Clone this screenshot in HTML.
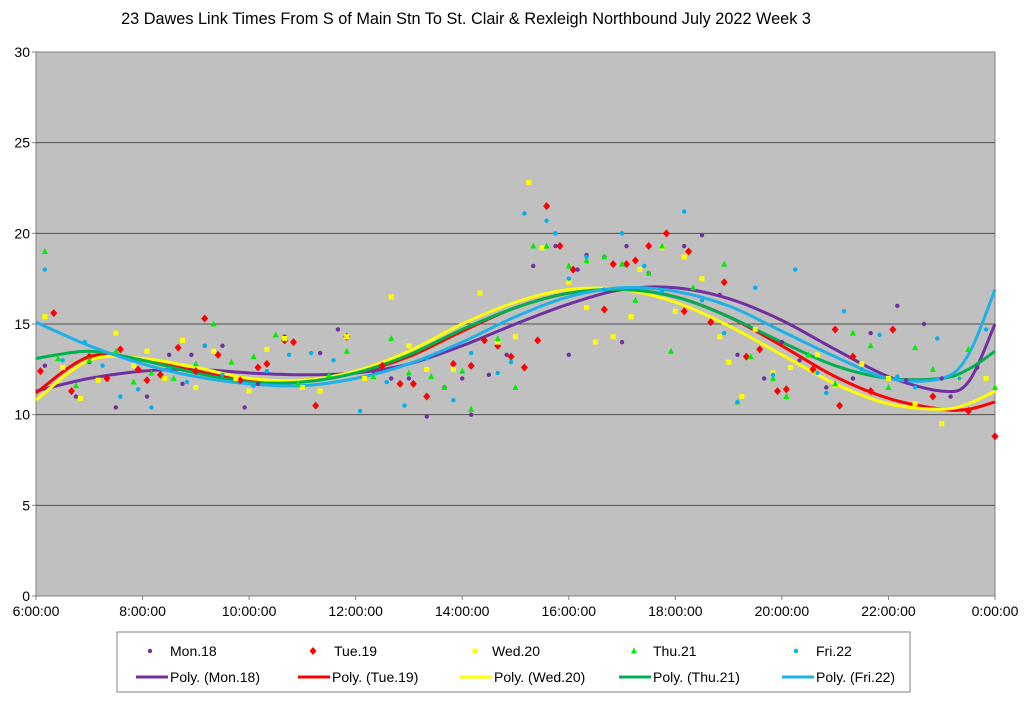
<!DOCTYPE html>
<html><head><meta charset="utf-8"><style>
body{margin:0;background:#fff;font-family:"Liberation Sans",Arial,sans-serif}
svg text{font-family:"Liberation Sans",Arial,sans-serif}
</style></head><body>
<svg id="c" width="1024" height="700">
<text x="466" y="24" text-anchor="middle" font-size="16.3">23 Dawes Link Times From S of Main Stn To St. Clair &amp; Rexleigh Northbound July 2022  Week 3</text>
<rect x="36" y="52" width="959" height="544" fill="#c0c0c0" stroke="#808080"/>
<g id="grid"></g><g id="lines"></g><g id="pts"></g><g id="axes"></g>
<g id="legend">
<rect x="117" y="632" width="793" height="60" fill="#fff" stroke="#808080"/>
</g>
</svg>
<script>
const yTicks=[0,5,10,15,20,25,30];
const xTicks=["6:00:00","8:00:00","10:00:00","12:00:00","14:00:00","16:00:00","18:00:00","20:00:00","22:00:00","0:00:00"];
const seriesNames=["Mon.18","Tue.19","Wed.20","Thu.21","Fri.22"];
const monT=["6:10","6:45","7:00","7:30","7:50","8:05","8:30","8:45","8:55","9:10","9:30","9:55","10:10","10:40","11:20","11:40","12:20","12:40","13:00","13:20","13:40","14:00","14:10","14:30","14:50","15:20","15:45","16:00","16:10","16:20","16:40","17:00","17:05","17:30","18:10","18:30","18:50","19:10","19:40","20:00","20:20","20:50","21:20","21:40","22:10","22:20","22:40","23:00","23:10","23:40"];
const monV=[12.7,11.0,12.9,10.4,12.7,11.0,13.3,11.7,13.3,13.8,13.8,10.4,11.7,14.3,13.4,14.7,12.4,12.0,12.0,9.9,11.5,12.0,10.0,12.2,13.3,18.2,19.3,13.3,18.0,18.8,18.7,14.0,19.3,17.8,19.3,19.9,16.6,13.3,12.0,14.0,13.0,11.5,12.0,14.5,16.0,11.9,15.0,12.0,11.0,12.6];
const tueT=["6:05","6:20","6:40","7:00","7:20","7:35","7:55","8:05","8:20","8:40","9:00","9:10","9:25","9:50","10:10","10:20","10:40","10:50","11:15","11:50","12:30","12:50","13:05","13:20","13:50","14:10","14:25","14:40","14:55","15:10","15:25","15:35","15:50","16:05","16:40","16:50","17:05","17:15","17:30","17:50","18:10","18:15","18:40","18:55","19:20","19:35","19:55","20:05","20:35","21:00","21:05","21:20","21:40","22:05","22:50","23:30","0:00"];
const tueV=[12.4,15.6,11.3,13.2,12.0,13.6,12.5,11.9,12.2,13.7,12.4,15.3,13.3,11.9,12.6,12.8,14.1,14.0,10.5,14.3,12.7,11.7,11.7,11.0,12.8,12.7,14.1,13.8,13.2,12.6,14.1,21.5,19.3,18.0,15.8,18.3,18.3,18.5,19.3,20.0,15.7,19.0,15.1,17.3,13.2,13.6,11.3,11.4,12.5,14.7,10.5,13.2,11.3,14.7,11.0,10.2,8.8];
const wedT=["6:10","6:30","6:50","7:10","7:30","7:50","8:05","8:25","8:45","9:00","9:20","9:45","10:00","10:20","10:40","11:00","11:20","11:50","12:10","12:40","13:00","13:20","13:50","14:20","14:40","15:00","15:15","15:30","16:00","16:20","16:30","16:50","17:10","17:20","17:45","18:00","18:10","18:30","18:50","19:00","19:15","19:30","19:50","20:10","20:40","21:00","21:30","22:00","22:30","23:00","23:20","23:50"];
const wedV=[15.4,12.6,10.9,11.9,14.5,12.7,13.5,12.0,14.1,11.5,13.5,12.0,11.3,13.6,14.2,11.5,11.3,14.3,12.0,16.5,13.8,12.5,12.5,16.7,14.0,14.3,22.8,19.2,17.3,15.9,14.0,14.3,15.4,18.0,19.2,15.7,18.7,17.5,14.3,12.9,11.0,14.7,12.3,12.6,13.3,11.6,12.8,12.0,10.6,9.5,12.0,12.0];
const thuT=["6:10","6:25","6:45","7:00","7:30","7:50","8:10","8:35","9:00","9:20","9:40","10:05","10:30","10:55","11:30","11:50","12:20","12:40","13:00","13:25","13:40","14:00","14:10","14:40","15:00","15:20","15:35","16:00","16:20","16:40","17:00","17:15","17:30","17:45","17:55","18:20","18:55","19:10","19:25","19:50","20:05","20:30","21:00","21:20","21:40","22:00","22:30","22:50","23:30","0:00"];
const thuV=[19.0,13.1,11.6,13.0,13.5,11.8,12.3,12.0,12.8,15.0,12.9,13.2,14.4,11.7,12.2,13.5,12.1,14.2,12.3,12.1,11.5,12.4,10.3,14.2,11.5,19.3,19.3,18.2,18.5,18.7,18.3,16.3,17.8,19.3,13.5,17.0,18.3,10.7,13.2,12.0,11.0,13.3,11.7,14.5,13.8,11.5,13.7,12.5,13.6,11.5];
const friT=["6:10","6:30","6:55","7:15","7:35","7:55","8:10","8:30","8:50","9:10","9:30","10:05","10:20","10:45","11:10","11:35","12:05","12:35","12:55","13:20","13:50","14:10","14:40","14:55","15:10","15:35","15:45","16:00","16:20","16:40","17:00","17:25","17:45","18:10","18:30","18:55","19:10","19:30","19:50","20:15","20:40","20:50","21:10","21:30","21:50","22:10","22:30","22:55","23:20","23:50"];
const friV=[18.0,13.0,14.0,12.7,11.0,11.4,10.4,12.5,11.8,13.8,12.2,11.6,12.4,13.3,13.4,13.0,10.2,11.8,10.5,13.1,10.8,13.4,12.3,12.9,21.1,20.7,20.0,17.5,18.7,16.9,20.0,18.2,16.8,21.2,16.3,14.5,10.7,17.0,12.2,18.0,12.3,11.2,15.7,12.5,14.4,12.1,11.5,14.2,12.0,14.7];
const trendHours=[6,7,8,9,10,11,12,13,14,15,16,17,18,19,20,21,22,23,23.5,24];
const monTrend=[11.3,12.0,12.4,12.5,12.3,12.2,12.3,12.8,13.8,15.0,16.1,16.9,17.0,16.4,15.2,13.6,12.1,11.3,11.8,15.0];
const tueTrend=[11.2,13.2,13.0,12.4,11.9,11.9,12.3,13.2,14.6,15.9,16.7,16.9,16.5,15.4,13.8,12.1,10.9,10.3,10.3,10.7];
const wedTrend=[10.8,13.0,13.1,12.6,12.0,11.9,12.4,13.5,15.0,16.2,16.9,16.9,16.2,14.9,13.3,11.7,10.6,10.3,10.6,11.3];
const thuTrend=[13.1,13.5,13.0,12.3,11.8,11.8,12.3,13.3,14.7,15.9,16.7,16.9,16.5,15.4,14.0,12.7,12.0,12.0,12.5,13.5];
const friTrend=[15.1,13.8,12.8,12.1,11.7,11.6,12.0,12.8,14.0,15.4,16.5,17.0,16.8,16.0,14.6,13.2,12.0,12.0,13.3,16.9];

const NS="http://www.w3.org/2000/svg";
const X0=36,X1=995,Y0=596,Y1=52;
const xs=h=>X0+(h-6)/18*(X1-X0);
const ys=v=>Y0-v/30*(Y0-Y1);
const hr=t=>{const [a,b]=t.split(":").map(Number);let h=a+b/60;if(h<6)h+=24;return h;};
function mk(tag,at,parent){const e=document.createElementNS(NS,tag);for(const k in at)e.setAttribute(k,at[k]);document.getElementById(parent).appendChild(e);return e;}
yTicks.forEach(v=>{
 if(v>0&&v<30){const g=mk("line",{x1:X0,x2:X1,y1:ys(v),y2:ys(v),stroke:"#505050","stroke-width":1},"grid");
 
 }
 const t=mk("text",{x:X0-6,y:ys(v)+5,"text-anchor":"end","font-size":14},"axes");t.textContent=v;
 
 
 const k=mk("line",{x1:X0-4,x2:X0,y1:ys(v),y2:ys(v),stroke:"#808080"},"axes");
 
 
});
xTicks.forEach((s,i)=>{
 const h=6+i*2;
 const t=mk("text",{x:xs(h),y:Y0+20,"text-anchor":"middle","font-size":14},"axes");t.textContent=s;
 
 
 const k=mk("line",{x1:xs(h),x2:xs(h),y1:Y0,y2:Y0+4,stroke:"#808080"},"axes");
 
 
});
const lineColors=["#7030a0","#ff0000","#ffff00","#00b050","#1fb0e8"];
const ptColors=["#7030a0","#ff0000","#ffff00","#00ee00","#00b0f0"];
const trends=[monTrend,tueTrend,wedTrend,thuTrend,friTrend];
const times=[monT,tueT,wedT,thuT,friT];
const vals=[monV,tueV,wedV,thuV,friV];
function smooth(P){let d="M"+P[0][0]+","+P[0][1];
 for(let i=0;i<P.length-1;i++){const p0=P[Math.max(i-1,0)],p1=P[i],p2=P[i+1],p3=P[Math.min(i+2,P.length-1)];
 d+=" C"+(p1[0]+(p2[0]-p0[0])/6)+","+(p1[1]+(p2[1]-p0[1])/6)+" "+(p2[0]-(p3[0]-p1[0])/6)+","+(p2[1]-(p3[1]-p1[1])/6)+" "+p2[0]+","+p2[1];}
 return d;}
function marker(s,x,y,parent){
 let e;const c=ptColors[s];
 if(s===0||s===4)e=mk("circle",{cx:x,cy:y,r:2.2,fill:c},parent);
 else if(s===1)e=mk("polygon",{points:`${x},${y-4} ${x+3.5},${y} ${x},${y+4} ${x-3.5},${y}`,fill:c},parent);
 else if(s===2)e=mk("rect",{x:x-2.5,y:y-2.5,width:5,height:5,fill:c},parent);
 else e=mk("polygon",{points:`${x},${y-3.5} ${x+3},${y+2.5} ${x-3},${y+2.5}`,fill:c},parent);
 return e;}
trends.forEach((tr,s)=>{
 const p=mk("path",{d:smooth(trendHours.map((h,i)=>[xs(h),ys(tr[i])])),fill:"none",stroke:lineColors[s],"stroke-width":3},"lines");
 
 
});
times.forEach((ts,s)=>{ts.forEach((t,i)=>{
 const m=marker(s,xs(hr(t)),ys(vals[s][i]),"pts");
 
 
});});
const lmx=[150,313,475,634,796],ltx=[170,334,492,653,816],llx=[136,298,460,619,782];
seriesNames.forEach((n,s)=>{
 const m=marker(s,lmx[s],651,"legend");
 
 
 const t=mk("text",{x:ltx[s],y:656,"font-size":14},"legend");t.textContent=n;
 
 
 const l=mk("line",{x1:llx[s],x2:llx[s]+32,y1:677,y2:677,stroke:lineColors[s],"stroke-width":3},"legend");
 
 
 const t2=mk("text",{x:llx[s]+34,y:682,"font-size":14},"legend");t2.textContent="Poly. ("+n+")";
 
 
});
</script>
</body></html>
